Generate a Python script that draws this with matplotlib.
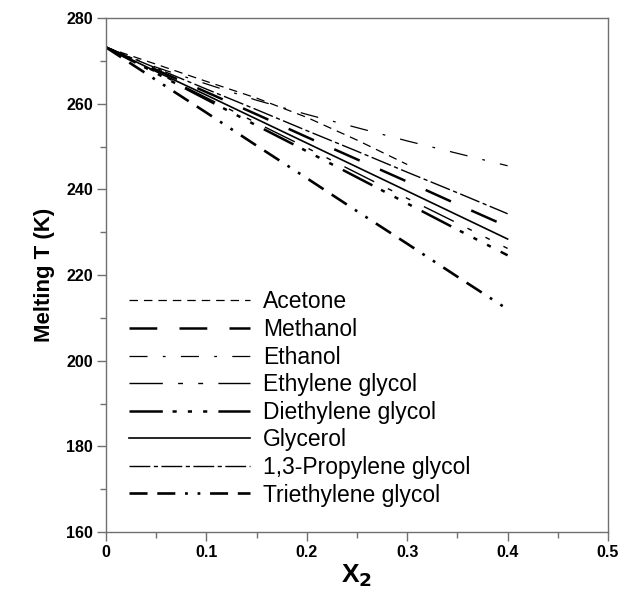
import numpy as np
import matplotlib
matplotlib.use("Agg")
import matplotlib.pyplot as plt
from matplotlib.ticker import MultipleLocator

plt.rcParams['font.family'] = ['Liberation Sans', 'DejaVu Sans']
plt.rcParams['lines.scale_dashes'] = False

# mole fraction of the additive
x2 = [0, 0.05, 0.1, 0.15, 0.2, 0.25, 0.3, 0.35, 0.4]
x2_acetone = [0, 0.05, 0.1, 0.15, 0.2, 0.25, 0.3]

# melting temperatures (K)
t_acetone = [273.15, 269.2, 265.2, 261.3, 256.8, 251.5, 245.8]
t_methanol = [273.15, 267.9, 262.7, 257.5, 252.2, 247.0, 241.8, 236.5, 231.3]
t_ethanol = [273.15, 268.5, 264.6, 260.8, 257.5, 254.4, 251.3, 248.4, 245.5]
t_eg = [273.15, 267.3, 261.4, 255.5, 249.7, 243.8, 237.9, 232.1, 226.2]
t_deg = [273.15, 267.1, 261.0, 254.9, 248.9, 242.8, 236.7, 230.6, 224.6]
t_glycerol = [273.15, 267.5, 262.0, 256.4, 250.8, 245.2, 239.6, 234.0, 228.4]
t_pg = [273.15, 268.3, 263.4, 258.6, 253.7, 248.9, 244.0, 239.2, 234.3]
t_teg = [273.15, 265.5, 257.9, 250.2, 242.6, 234.9, 227.3, 219.6, 212.0]

labels = ['Acetone', 'Methanol', 'Ethanol', 'Ethylene glycol',
          'Diethylene glycol', 'Glycerol', '1,3-Propylene glycol',
          'Triethylene glycol']

fig = plt.figure(figsize=(6.36, 6.08), dpi=100)
ax = fig.add_axes([106/636, 1 - 532/608, 502/636, 514/608])

# dash patterns in points (scale_dashes off)
ax.plot(x2_acetone, t_acetone, color='k', lw=0.9, dashes=(6.1, 4.3), label=labels[0])
ax.plot(x2, t_methanol, color='k', lw=1.8, dashes=(20, 16), label=labels[1])
ax.plot(x2, t_ethanol, color='k', lw=0.9, dashes=(13, 11, 2, 11), label=labels[2])
ax.plot(x2, t_eg, color='k', lw=1.0, dashes=(24, 11, 3.5, 11, 3.5, 11), label=labels[3])
ax.plot(x2, t_deg, color='k', lw=1.8, dashes=(24, 7, 3, 8, 3, 8, 3, 8), label=labels[4])
ax.plot(x2, t_glycerol, color='k', lw=1.2, ls='-', label=labels[5])
ax.plot(x2, t_pg, color='k', lw=1.0, dashes=(15, 2.5, 3, 2.5), label=labels[6])
ax.plot(x2, t_teg, color='k', lw=1.9, dashes=(13, 7, 13, 7, 2, 7, 2, 7), label=labels[7])

ax.set_xlim(0, 0.5)
ax.set_ylim(160, 280)
ax.xaxis.set_minor_locator(MultipleLocator(0.05))
ax.yaxis.set_major_locator(MultipleLocator(20))
ax.yaxis.set_minor_locator(MultipleLocator(10))
ax.set_xticks([0, 0.1, 0.2, 0.3, 0.4, 0.5])
ax.set_xticklabels(['0', '0.1', '0.2', '0.3', '0.4', '0.5'])

gray = '#707070'
for s in ax.spines.values():
    s.set_color(gray)
    s.set_linewidth(1.0)
ax.tick_params(which='major', direction='out', length=6.5, width=1.0, color=gray,
               labelsize=11.5, pad=3)
ax.tick_params(which='minor', direction='out', length=4, width=1.0, color=gray)
for lab in ax.get_xticklabels() + ax.get_yticklabels():
    lab.set_fontweight('bold')

ax.set_xlabel('X$_\\mathbf{2}$', fontsize=19, fontweight='bold', labelpad=2)
ax.set_ylabel('Melting T (K)', fontsize=16, fontweight='bold', labelpad=8)

ax.legend(loc='upper left', bbox_to_anchor=(0.045, 0.470), frameon=False,
          fontsize=16.5, handlelength=5.3, handletextpad=0.55,
          labelspacing=0.2, borderpad=0, borderaxespad=0)

fig.savefig('out.png', dpi=100)
